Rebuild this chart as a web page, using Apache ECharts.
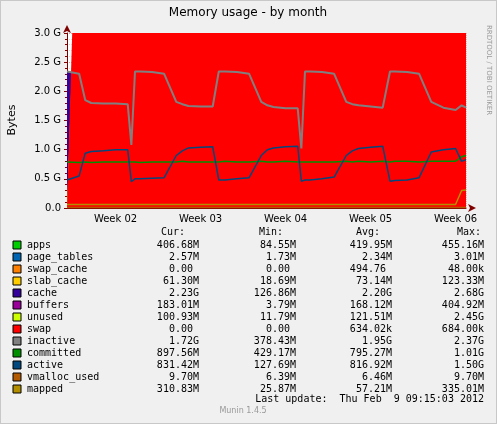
<!DOCTYPE html>
<html><head><meta charset="utf-8">
<script src="https://cdn.jsdelivr.net/npm/echarts@6/dist/echarts.min.js"></script>
<style>html,body{margin:0;padding:0;background:#f0f0f0}#c{width:497px;height:424px}</style>
</head><body><div id="c"></div>
<script>
const days = [0,1,1.5,2,3,4,5,5.3,5.6,6,7,8,9,9.5,10,11,12,12.5,13,14,15,16,16.5,17,18,19,19.3,19.6,20,21,22,23,23.5,24,25,26,26.6,27,28,29,30,31,32,32.5,32.86];
const weekLabels = ['Week 02','Week 03','Week 04','Week 05','Week 06'];
const weekTicks = [4,11,18,25,32];
const yTicks = ['0.0','0.5 G','1.0 G','1.5 G','2.0 G','2.5 G','3.0 G'];
const apps =   [0.40,0.40,0.40,0.40,0.40,0.41,0.41,0.41,0.41,0.41,0.41,0.41,0.41,0.41,0.41,0.41,0.42,0.41,0.41,0.41,0.41,0.41,0.41,0.41,0.41,0.42,0.42,0.41,0.41,0.41,0.41,0.41,0.41,0.41,0.41,0.42,0.41,0.41,0.41,0.41,0.41,0.41,0.41,0.41,0.41];
const pageTables = days.map(()=>0.0025);
const swapCache = days.map(()=>0);
const slab =   [0.06,0.06,0.06,0.07,0.07,0.07,0.07,0.07,0.06,0.06,0.06,0.07,0.07,0.07,0.07,0.07,0.07,0.06,0.06,0.06,0.07,0.07,0.07,0.07,0.07,0.07,0.07,0.06,0.06,0.06,0.07,0.07,0.07,0.07,0.07,0.07,0.06,0.06,0.06,0.07,0.07,0.07,0.07,0.07,0.06];
const cache =  [2.34,2.30,2.28,2.26,2.22,2.19,2.14,1.27,2.40,2.40,2.37,2.32,2.28,2.26,2.24,2.20,2.14,2.38,2.38,2.35,2.30,2.26,2.24,2.22,2.18,2.12,1.42,2.40,2.40,2.36,2.32,2.28,2.26,2.24,2.20,2.16,2.38,2.38,2.34,2.30,2.26,2.24,2.18,2.22,2.23];
const buffers =[0.06,0.10,0.12,0.14,0.18,0.21,0.26,0.33,0.01,0.01,0.03,0.08,0.12,0.14,0.16,0.20,0.26,0.02,0.02,0.05,0.10,0.14,0.16,0.18,0.22,0.28,0.20,0.01,0.01,0.04,0.08,0.12,0.14,0.16,0.20,0.24,0.02,0.02,0.06,0.10,0.14,0.14,0.18,0.12,0.18];
const unused = [0.09,0.09,0.09,0.09,0.09,0.09,0.09,0.89,0.09,0.09,0.09,0.09,0.09,0.09,0.09,0.09,0.09,0.09,0.09,0.09,0.09,0.09,0.09,0.09,0.09,0.09,0.80,0.09,0.09,0.09,0.09,0.09,0.09,0.09,0.09,0.09,0.09,0.09,0.09,0.09,0.09,0.12,0.14,0.19,0.10];
const swap = days.map(()=>0);
const inactive=[2.34,2.30,1.85,1.80,1.79,1.79,1.78,1.08,2.34,2.34,2.33,2.30,1.82,1.78,1.75,1.74,1.74,2.34,2.34,2.33,2.30,1.82,1.76,1.73,1.71,1.71,1.02,2.34,2.34,2.33,2.30,1.82,1.78,1.76,1.74,1.72,2.34,2.34,2.33,2.30,1.82,1.72,1.68,1.76,1.72];
const committed=[0.79,0.78,0.79,0.78,0.79,0.79,0.79,0.79,0.79,0.78,0.79,0.79,0.79,0.80,0.79,0.79,0.79,0.79,0.80,0.79,0.79,0.80,0.79,0.79,0.80,0.79,0.79,0.79,0.79,0.79,0.79,0.80,0.79,0.80,0.79,0.80,0.79,0.80,0.80,0.79,0.80,0.80,0.80,0.88,0.90];
const active = [0.48,0.55,0.94,0.97,0.98,1.00,1.00,0.45,0.50,0.50,0.51,0.52,0.90,0.98,1.03,1.04,1.05,0.48,0.48,0.50,0.52,0.90,1.00,1.03,1.05,1.06,0.46,0.48,0.48,0.50,0.53,0.90,0.98,1.02,1.04,1.06,0.46,0.47,0.48,0.52,0.96,1.00,1.02,0.80,0.83];
const vmalloc = days.map(()=>0.01);
const mapped = [0.06,0.06,0.06,0.06,0.06,0.06,0.06,0.06,0.06,0.06,0.06,0.06,0.06,0.06,0.06,0.06,0.06,0.06,0.06,0.06,0.06,0.06,0.06,0.06,0.06,0.06,0.06,0.06,0.06,0.06,0.06,0.06,0.06,0.06,0.06,0.06,0.06,0.06,0.06,0.06,0.06,0.06,0.06,0.30,0.31];
const legendNames = ['apps','page_tables','swap_cache','slab_cache','cache','buffers','unused','swap','inactive','committed','active','vmalloc_used','mapped'];
const legendColors = ['#00CC00','#0066B3','#FF8000','#FFCC00','#330099','#990099','#CCFF00','#FF0000','#808080','#008F00','#00487D','#B35A00','#B38F00'];
const curVals = ['406.68M','2.57M','0.00 ','61.30M','2.23G','183.01M','100.93M','0.00 ','1.72G','897.56M','831.42M','9.70M','310.83M'];
const minVals = ['84.55M','1.73M','0.00 ','18.69M','126.86M','3.79M','11.79M','0.00 ','378.43M','429.17M','127.69M','6.39M','25.87M'];
const avgVals = ['419.95M','2.34M','494.76 ','73.14M','2.20G','168.12M','121.51M','634.02k','1.95G','795.27M','816.92M','6.46M','57.21M'];
const maxVals = ['455.16M','3.01M','48.00k','123.33M','2.68G','404.92M','2.45G','684.00k','2.37G','1.01G','1.50G','9.70M','335.01M'];

const chart = echarts.init(document.getElementById('c'));
const pts = a => days.map((d,i)=>[d,a[i]]);
const areaDefs = [['apps',apps],['page_tables',pageTables],['swap_cache',swapCache],['slab_cache',slab],['cache',cache],['buffers',buffers],['unused',unused],['swap',swap]];
const lineDefs = [['inactive',inactive],['committed',committed],['active',active],['vmalloc_used',vmalloc],['mapped',mapped]];
const series = [];
areaDefs.forEach(([n,a])=>{const c=legendColors[legendNames.indexOf(n)];series.push({name:n,type:'line',stack:'mem',data:pts(a),symbol:'none',step:false,lineStyle:{width:0},areaStyle:{color:c,opacity:1},itemStyle:{color:c},z:2});});
lineDefs.forEach(([n,a])=>{const c=legendColors[legendNames.indexOf(n)];series.push({name:n,type:'line',data:pts(a),symbol:'none',lineStyle:{width:n==='inactive'?2:1.5,color:c},z:3});});
series.push({type:'line',xAxisIndex:1,data:[],silent:true});

const mono = 'DejaVu Sans Mono';
const g = [];
const tx = (x,y,t,o={}) => g.push({type:'text',left:undefined,x,y,style:Object.assign({text:t,font:'10px '+mono,fill:'#000',textVerticalAlign:'middle'},o),z:10});
tx(248,13,'Memory usage - by month',{font:'12px DejaVu Sans',textAlign:'center'});
tx(12,120,'Bytes',{font:'11px DejaVu Sans',textAlign:'center'});
g[g.length-1].rotation=Math.PI/2; g[g.length-1].x=12; g[g.length-1].y=120; g[g.length-1].style.x=0; g[g.length-1].style.y=0;
g.push({type:'text',x:489,y:70,rotation:-Math.PI/2,style:{text:'RRDTOOL / TOBI OETIKER',font:'7px DejaVu Sans',fill:'#999',textAlign:'center',textVerticalAlign:'middle'}});
[['Cur:',185],['Min:',283],['Avg:',380],['Max:',481]].forEach(([t,x])=>tx(x,232,t,{textAlign:'right'}));
legendNames.forEach((n,i)=>{
  const y=245+12*i;
  g.push({type:'rect',shape:{x:13,y:y-4,width:8,height:8},style:{fill:legendColors[i],stroke:'#000',lineWidth:1},z:10});
  tx(27,y,n);
  tx(199,y,curVals[i],{textAlign:'right'});
  tx(296,y,minVals[i],{textAlign:'right'});
  tx(392,y,avgVals[i],{textAlign:'right'});
  tx(484,y,maxVals[i],{textAlign:'right'});
});
tx(484,399,'Last update:  Thu Feb  9 09:15:03 2012',{textAlign:'right'});
tx(243,411,'Munin 1.4.5',{font:'8px DejaVu Sans',fill:'#999',textAlign:'center'});
g.push({type:'rect',shape:{x:0,y:0,width:497,height:424},style:{fill:'none',stroke:'#c8c8c8',lineWidth:2},z:0,silent:true});

chart.setOption({
  backgroundColor:'#f0f0f0',animation:false,
  grid:{left:67,right:31,top:33,bottom:216,backgroundColor:'#ffffff',show:true,borderWidth:0},
  xAxis:[{type:'value',min:0,max:32.86,
    axisLine:{lineStyle:{color:'#800000'},symbol:['none','arrow'],symbolSize:[6,8],symbolOffset:[0,10]},
    axisTick:{customValues:weekTicks,lineStyle:{color:'#800000'},length:3,inside:true},
    axisLabel:{customValues:weekTicks,formatter:v=>weekLabels[weekTicks.indexOf(Math.round(v))]||'',color:'#000',fontFamily:'DejaVu Sans',fontSize:10,margin:6},
    splitLine:{show:false}},
   {type:'value',min:0,max:32.86,interval:1,show:true,position:'bottom',axisLine:{show:false},axisTick:{show:false},axisLabel:{show:false},
    splitLine:{show:true,lineStyle:{color:'rgba(220,140,140,0.6)',type:'dotted',width:1}}}],
  yAxis:{type:'value',min:0,max:3.0,interval:0.5,
    axisLine:{show:true,lineStyle:{color:'#800000'},symbol:['none','arrow'],symbolSize:[6,8],symbolOffset:[0,8]},
    axisTick:{show:true,length:3,inside:false,lineStyle:{color:'#800000'}},
    minorTick:{show:true,splitNumber:5,length:2,lineStyle:{color:'#800000'}},
    axisLabel:{formatter:v=>yTicks[Math.round(v*2)],color:'#000',fontFamily:'DejaVu Sans',fontSize:10,margin:6},
    splitLine:{show:true,lineStyle:{color:'rgba(220,120,120,0.7)',type:'dotted'}},
    minorSplitLine:{show:true,lineStyle:{color:'rgba(220,160,160,0.45)',type:'dotted'}}},
  series, graphic:g
});
</script></body></html>
